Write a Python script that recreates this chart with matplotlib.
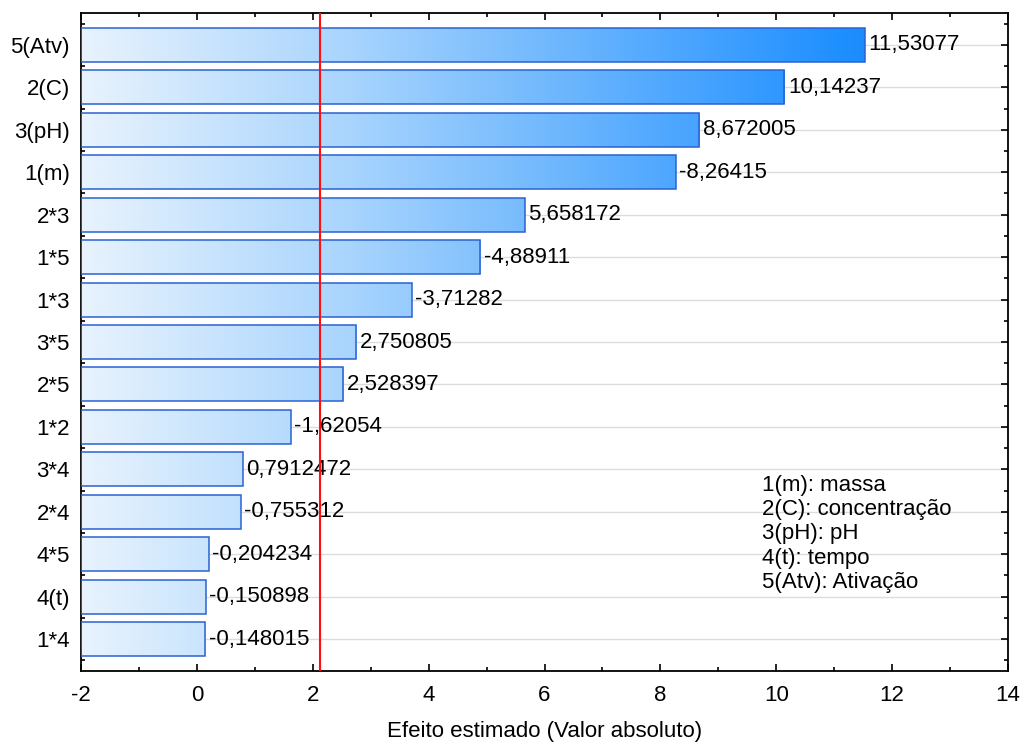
import numpy as np
import matplotlib
matplotlib.use('Agg')
from matplotlib import pyplot as plt
from matplotlib.colors import LinearSegmentedColormap
from matplotlib.patches import Rectangle
from matplotlib.ticker import MultipleLocator

plt.rcParams['font.family'] = ['Liberation Sans', 'DejaVu Sans']

# Pareto chart of standardized effects, largest first
factors = ['5(Atv)', '2(C)', '3(pH)', '1(m)', '2*3', '1*5', '1*3', '3*5',
           '2*5', '1*2', '3*4', '2*4', '4*5', '4(t)', '1*4']
effects = [11.53077, 10.14237, 8.672005, -8.26415, 5.658172, -4.88911,
           -3.71282, 2.750805, 2.528397, -1.62054, 0.7912472, -0.755312,
           -0.204234, -0.150898, -0.148015]
labels = ['11,53077', '10,14237', '8,672005', '-8,26415', '5,658172',
          '-4,88911', '-3,71282', '2,750805', '2,528397', '-1,62054',
          '0,7912472', '-0,755312', '-0,204234', '-0,150898', '-0,148015']
p_limit = 2.131
legend_lines = ['1(m): massa', '2(C): concentração', '3(pH): pH',
                '4(t): tempo', '5(Atv): Ativação']

x_min, x_max = -2, 14
bar_h = 0.8
fs = 16

cmap = LinearSegmentedColormap.from_list(
    'fade', [(0.0, '#e8f3fd'), (0.3, '#a8d4fd'), (0.85, '#1e8fff'),
             (1.0, '#1680f0')])
grad = np.linspace(0, 1, 512).reshape(1, -1)

fig = plt.figure(figsize=(10.22, 7.44), dpi=100)
ax = fig.add_axes([81 / 1022, 73 / 744, 927 / 1022, 658 / 744])

for i, (eff, lab) in enumerate(zip(effects, labels)):
    width = abs(eff) - x_min
    ax.axhline(i, color='#dcdcdc', lw=1, zorder=0)
    rect = Rectangle((x_min, i - bar_h / 2), width, bar_h,
                     facecolor='none', edgecolor='#2a62d2', lw=1.1, zorder=3)
    ax.add_patch(rect)
    img = ax.imshow(grad, cmap=cmap, aspect='auto',
                    extent=(x_min, 13.5, i + bar_h / 2, i - bar_h / 2),
                    zorder=2, interpolation='bilinear')
    img.set_clip_path(rect)
    ax.text(abs(eff) + 0.06, i, lab, va='center', ha='left',
            fontsize=fs, zorder=4)

ax.axvline(p_limit, color='#ff1010', lw=1.5, zorder=5)

ax.set_xlim(x_min, x_max)
ax.set_ylim(len(factors) - 0.25, -0.75)
ax.set_yticks(range(len(factors)))
ax.set_yticklabels(factors, fontsize=fs)
ax.yaxis.set_minor_locator(MultipleLocator(0.5))
ax.xaxis.set_major_locator(MultipleLocator(2))
ax.xaxis.set_minor_locator(MultipleLocator(1))
ax.set_xticklabels(['%g' % v for v in ax.get_xticks()], fontsize=fs)
ax.tick_params(axis='both', which='both', direction='in',
               top=True, right=True, width=1.2)
ax.tick_params(which='major', length=5)
ax.tick_params(which='minor', length=3)
ax.tick_params(axis='x', pad=10)
ax.tick_params(axis='y', pad=8)
for sp in ax.spines.values():
    sp.set_linewidth(1.3)

ax.set_xlabel('Efeito estimado (Valor absoluto)', fontsize=fs, labelpad=11)

ax.text(0.735, 0.298, '\n'.join(legend_lines), transform=ax.transAxes,
        va='top', ha='left', fontsize=fs, linespacing=1.2, zorder=6)

fig.savefig('out.png', dpi=100)
